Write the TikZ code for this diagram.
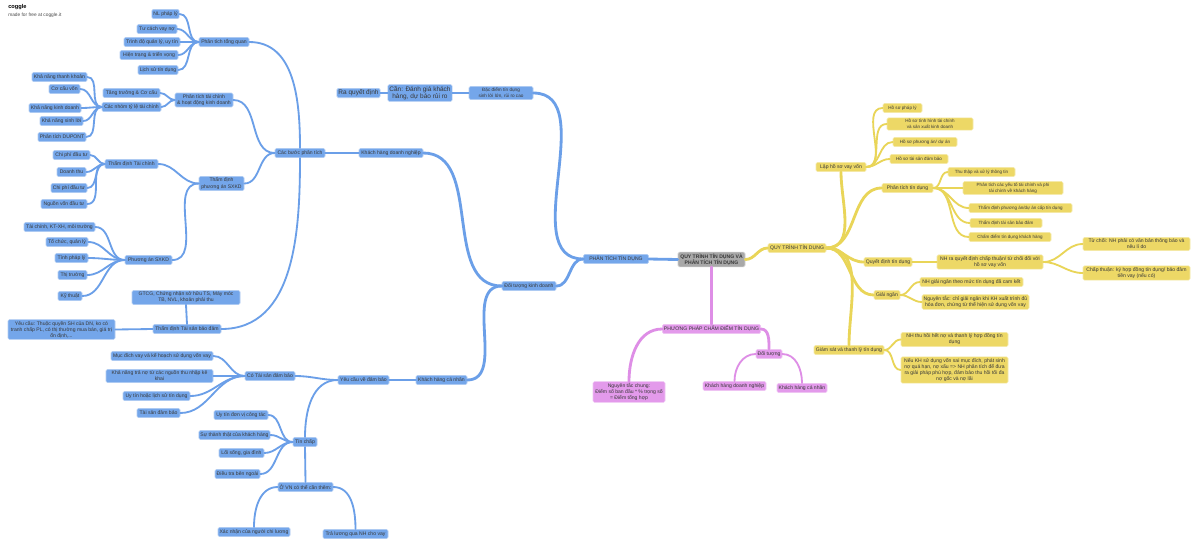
\documentclass[tikz,border=0pt]{standalone}
\usepackage{fontspec}
\setmainfont{Liberation Sans}
\definecolor{cgblue}{HTML}{74A6EA}
\definecolor{cgblueline}{HTML}{6B9FE8}
\definecolor{cgyellow}{HTML}{EDD866}
\definecolor{cgyellowline}{HTML}{E9D558}
\definecolor{cgpink}{HTML}{E39AEB}
\definecolor{cgpinkline}{HTML}{DE8EE6}
\definecolor{cggray}{HTML}{A8A8A8}
\begin{document}
\begin{tikzpicture}[
    x=0.7087pt, y=-0.7087pt,
    box/.style={rectangle,rounded corners=1pt,line width=0.4pt,inner sep=1.1pt,
      minimum height=6.6pt,align=center,text=black!78,
      font=\fontsize{3.6}{4.3}\selectfont},
    bw/.style={minimum width=#1*0.7087pt},
    bnode/.style={box,fill=cgblue,draw=cgblue!55!white},
    ynode/.style={box,fill=cgyellow,draw=cgyellow!55!white},
    ysmall/.style={ynode,font=\fontsize{3.2}{3.9}\selectfont},
    pnode/.style={box,fill=cgpink,draw=cgpink!55!white},
    big/.style={font=\fontsize{4.6}{5.3}\selectfont},
    bl/.style={draw=cgblueline,line width=1.3pt,line cap=round},
    yl/.style={draw=cgyellowline,line width=1.3pt,line cap=round},
    pl/.style={draw=cgpinkline,line width=1.3pt,line cap=round},
    heavy/.style={line width=2pt}
]
\fill[white] (0,0) rectangle (1200,550);
\useasboundingbox (0,0) rectangle (1200,550);

% logo
\node[anchor=west,inner sep=0,font=\fontsize{4}{4}\selectfont\bfseries] (logo) at (8,7) {coggle};
\node[anchor=west,inner sep=0,font=\fontsize{3.4}{4}\selectfont,text=black!70] (made) at (8,15) {made for free at coggle.it};

% root
\node[box,fill=cggray,draw=cggray!55!white,bw=67,font=\fontsize{3.6}{4.3}\selectfont\bfseries] (root) at (711.5,259.5) {QUY TRÌNH TÍN DỤNG VÀ\\PHÂN TÍCH TÍN DỤNG};

% ---- blue branch
\node[bnode,bw=65] (ptd0) at (616,259) {PHÂN TÍCH TÍN DỤNG};
\node[bnode,bw=54] (dtkd) at (529,286) {Đối tượng kinh doanh};
\node[bnode,bw=64] (khdn) at (391,153) {Khách hàng doanh nghiệp};
\node[bnode,bw=50] (cb) at (300,153) {Các bước phân tích};

\node[bnode,bw=50] (tq) at (224,42) {Phân tích tổng quan};
\node[bnode,bw=27] (nl) at (165.5,14) {NL pháp lý};
\node[bnode,bw=40] (tcv) at (157,29) {Tư cách vay nợ};
\node[bnode,bw=56] (tdql) at (152,42) {Trình độ quản lý, uy tín};
\node[bnode,bw=58] (httv) at (149,55) {Hiện trạng \& triển vọng};
\node[bnode,bw=40] (lstd) at (158,70) {Lịch sử tín dụng};

\node[bnode,bw=58] (pttc) at (204,100) {Phân tích tài chính\\\& hoạt động kinh doanh};
\node[bnode,bw=57] (ttcc) at (131.5,93) {Tăng trưởng \& Cơ cấu};
\node[bnode,bw=59] (nhom) at (131.5,107) {Các nhóm tỷ lệ tài chính};
\node[bnode,bw=55] (kntk) at (59.5,77) {Khả năng thanh khoản};
\node[bnode,bw=31] (ccv) at (64.5,89) {Cơ cấu vốn};
\node[bnode,bw=52] (knkd) at (55,108) {Khả năng kinh doanh};
\node[bnode,bw=43] (knsl) at (61.5,121) {Khả năng sinh lời};
\node[bnode,bw=48] (dup) at (62,137) {Phân tích DUPONT};

\node[bnode,bw=45] (tdpa) at (221.5,183.5) {Thẩm định\\phương án SXKD};
\node[bnode,bw=53] (tdtc) at (131.5,164) {Thẩm định Tài chính};
\node[bnode,bw=37] (cp1) at (71.5,155) {Chi phí đầu tư};
\node[bnode,bw=29] (dth) at (71.5,172) {Doanh thu};
\node[bnode,bw=36] (cp2) at (69,188) {Chi phí đầu tư};
\node[bnode,bw=46] (nv) at (64,204) {Nguồn vốn đầu tư};
\node[bnode,bw=47] (pa) at (148.5,260) {Phương án SXKD};
\node[bnode,bw=71] (tckt) at (59.5,227) {Tài chính, KT-XH, môi trường};
\node[bnode,bw=42] (tcql) at (67,242) {Tổ chức, quản lý};
\node[bnode,bw=33] (tpl) at (71.5,258) {Tính pháp lý};
\node[bnode,bw=29] (thtr) at (72.5,275) {Thị trường};
\node[bnode,bw=24] (kt) at (70,296) {Kỹ thuật};

\node[bnode,bw=108] (gtcg) at (186,297.5) {GTCG, Chứng nhận sở hữu TS, Máy móc\\TB, NVL, khoản phải thu};
\node[bnode,bw=68] (tsbd) at (187,329) {Thẩm định Tài sản bảo đảm};
\node[bnode,bw=107] (ycq) at (61.5,329.5) {Yêu cầu: Thuộc quyền SH của DN, ko có\\tranh chấp PL, có thị thường mua bán, giá trị\\ổn định,...};

\node[bnode,bw=51] (khcn) at (441.5,380) {Khách hàng cá nhân};
\node[bnode,bw=51] (ycdb) at (363.5,380) {Yêu cầu về đảm bảo};
\node[bnode,bw=50] (cts) at (270,376) {Có Tài sản đảm bảo};
\node[bnode,bw=102] (md) at (162,356) {Mục đích vay và kế hoạch sử dụng vốn vay};
\node[bnode,bw=107] (kntn) at (159.5,376) {Khả năng trả nợ từ các nguồn thu nhập kê\\khai};
\node[bnode,bw=67] (ut) at (156.5,396) {Uy tín hoặc lịch sử tín dụng};
\node[bnode,bw=43] (tsdb) at (158.5,413) {Tài sản đảm bảo};
\node[bnode,bw=24] (tc) at (305,442) {Tín chấp};
\node[bnode,bw=54] (utdv) at (241,415) {Uy tín đơn vị công tác};
\node[bnode,bw=71] (stt) at (234.5,435) {Sự thành thật của khách hàng};
\node[bnode,bw=45] (lsgd) at (241.5,453) {Lối sống, gia đình};
\node[bnode,bw=45] (dtbn) at (237.5,474) {Điều tra bên ngoài};
\node[bnode,bw=55] (vn) at (305.5,487) {Ở VN có thể cần thêm:};
\node[bnode,bw=72] (xn) at (254,532) {Xác nhận của người chi lương};
\node[bnode,bw=65] (tl) at (355.5,534) {Trả lương qua NH cho vay};

\node[bnode,bw=41,big] (rqd) at (358.5,93) {Ra quyết định};
\node[bnode,bw=64,big] (can) at (420,93) {Cần: Đánh giá khách\\hàng, dự báo rủi ro};
\node[bnode,bw=64,font=\fontsize{3.3}{4}\selectfont] (dd) at (501,93) {Đặc điểm tín dụng\\sinh lời lớn, rủi ro cao};

% ---- yellow branch
\node[ynode,bw=58] (qttd) at (797,248) {QUY TRÌNH TÍN DỤNG};
\node[ynode,bw=50] (lhs) at (841,167) {Lập hồ sơ vay vốn};
\node[ysmall,bw=39] (hspl) at (902.5,108) {Hồ sơ pháp lý};
\node[ysmall,bw=86] (hstc) at (930,124) {Hồ sơ tình hình tài chính\\và sản xuất kinh doanh};
\node[ysmall,bw=64] (hspa) at (925,142) {Hồ sơ phương án/ dự án};
\node[ysmall,bw=58] (hsts) at (919,159) {Hồ sơ tài sản đảm bảo};
\node[ynode,bw=51] (ptd) at (907.5,188) {Phân tích tín dụng};
\node[ysmall,bw=67] (ttxl) at (981.5,172) {Thu thập và xử lý thông tin};
\node[ysmall,bw=100] (ptyt) at (1013,188) {Phân tích các yếu tố tài chính và phi\\tài chính về khách hàng};
\node[ysmall,bw=103] (tdcap) at (1020.5,208) {Thẩm định phương án/dự án cấp tín dụng};
\node[ysmall,bw=72] (tdts) at (1006,223) {Thẩm định tài sản bảo đảm};
\node[ysmall,bw=82] (cdtd) at (1010,237) {Chấm điểm tín dụng khách hàng};
\node[ynode,bw=48] (qd) at (888,262) {Quyết định tín dụng};
\node[ynode,bw=106] (nhqd) at (990,262) {NH ra quyết định chấp thuận/ từ chối đối với\\hồ sơ vay vốn};
\node[ynode,bw=107] (tuchoi) at (1136.5,244) {Từ chối: NH phải có văn bản thông báo và\\nêu lí do};
\node[ynode,bw=107] (chapth) at (1136.5,273) {Chấp thuận: ký hợp đồng tín dụng/ bảo đảm\\tiền vay (nếu có)};
\node[ynode,bw=26] (gn) at (887,295) {Giải ngân};
\node[ynode,bw=103] (nhgn) at (971.5,282) {NH giải ngân theo mức tín dụng đã cam kết};
\node[ynode,bw=107] (ntgn) at (975.5,302) {Nguyên tắc: chỉ giải ngân khi KH xuất trình đủ\\hóa đơn, chứng từ thể hiện sử dụng vốn vay};
\node[ynode,bw=70] (gs) at (849,350) {Giám sát và thanh lý tín dụng};
\node[ynode,bw=107] (thuhoi) at (954.5,339.5) {NH thu hồi hết nợ và thanh lý hợp đồng tín\\dụng};
\node[ynode,bw=107] (neu) at (954.5,370) {Nếu KH sử dụng vốn sai mục đích, phát sinh\\nợ quá hạn, nợ xấu => NH phân tích để đưa\\ra giải pháp phù hợp, đảm bảo thu hồi tối đa\\nợ gốc và nợ lãi};

% ---- pink branch
\node[pnode,bw=97] (pp) at (711.5,329) {PHƯƠNG PHÁP CHẤM ĐIỂM TÍN DỤNG};
\node[pnode,bw=26] (dtg) at (769,354) {Đối tượng};
\node[pnode,bw=72] (nt) at (629,392) {Nguyên tắc chung:\\Điểm số ban đầu * \% trọng số\\= Điểm tổng hợp};
\node[pnode,bw=63] (kdn) at (734.5,386) {Khách hàng doanh nghiệp};
\node[pnode,bw=50] (kcn) at (802,388) {Khách hàng cá nhân};

% connectors, blue
\draw[bl,heavy] (root.west) -- (ptd0.east);
\draw[bl,heavy] (ptd0.west) to[out=180,in=0] (dd.east);
\draw[bl,heavy] (ptd0.west) to[out=180,in=0] (dtkd.east);
\draw[bl] (dd.west) -- (can.east);
\draw[bl] (can.west) -- (rqd.east);
\draw[bl,heavy] (dtkd.west) to[out=180,in=0] (khdn.east);
\draw[bl,heavy] (dtkd.west) to[out=180,in=0] (khcn.east);
\draw[bl,heavy] (khdn.west) -- (cb.east);
\draw[bl] (cb.north) to[out=90,in=0] (tq.east);
\draw[bl] (cb.west) to[out=180,in=0] (pttc.east);
\draw[bl] (cb.west) to[out=180,in=0] (tdpa.east);
\draw[bl] (cb.south) to[out=-90,in=0] (tsbd.east);
\foreach \c in {nl,tcv,tdql,httv,lstd}
  \draw[bl] (tq.west) to[out=180,in=0] (\c.east);
\foreach \c in {ttcc,nhom}
  \draw[bl] (pttc.west) to[out=180,in=0] (\c.east);
\foreach \c in {kntk,ccv,knkd,knsl,dup}
  \draw[bl] (nhom.west) to[out=180,in=0] (\c.east);
\draw[bl] (tdpa.west) to[out=180,in=0] (tdtc.east);
\draw[bl] (tdpa.west) to[out=180,in=0] (pa.east);
\foreach \c in {cp1,dth,cp2,nv}
  \draw[bl] (tdtc.west) to[out=180,in=0] (\c.east);
\foreach \c in {tckt,tcql,tpl,thtr,kt}
  \draw[bl] (pa.west) to[out=180,in=0] (\c.east);
\draw[bl] (tsbd.north) -- (gtcg.south);
\draw[bl] (tsbd.west) -- (ycq.east);
\draw[bl,heavy] (khcn.west) -- (ycdb.east);
\draw[bl] (ycdb.west) to[out=180,in=0] (cts.east);
\draw[bl] (ycdb.west) to[out=180,in=90] (tc.north);
\foreach \c in {md,kntn,ut,tsdb}
  \draw[bl] (cts.west) to[out=180,in=0] (\c.east);
\foreach \c in {utdv,stt,lsgd,dtbn}
  \draw[bl] (tc.west) to[out=180,in=0] (\c.east);
\draw[bl] (tc.south) -- (vn.north);
\draw[bl] (vn.west) to[out=180,in=90] (xn.north);
\draw[bl] (vn.east) to[out=0,in=90] (tl.north);

% connectors, yellow
\draw[yl,heavy] (root.east) to[out=0,in=180] (qttd.west);
\draw[yl,heavy] (qttd.east) to[out=0,in=-90] (lhs.south);
\draw[yl,heavy] (qttd.east) to[out=0,in=180] (ptd.west);
\draw[yl,heavy] (qttd.east) to[out=0,in=180] (qd.west);
\draw[yl,heavy] (qttd.east) to[out=0,in=180] (gn.west);
\draw[yl,heavy] (qttd.east) to[out=0,in=90] (gs.north);
\foreach \c in {hspl,hstc,hspa,hsts}
  \draw[yl] (lhs.east) to[out=0,in=180] (\c.west);
\foreach \c in {ttxl,ptyt,tdcap,tdts,cdtd}
  \draw[yl] (ptd.east) to[out=0,in=180] (\c.west);
\draw[yl] (qd.east) -- (nhqd.west);
\draw[yl] (nhqd.east) to[out=0,in=180] (tuchoi.west);
\draw[yl] (nhqd.east) to[out=0,in=180] (chapth.west);
\draw[yl] (gn.east) to[out=0,in=180] (nhgn.west);
\draw[yl] (gn.east) to[out=0,in=180] (ntgn.west);
\draw[yl] (gs.east) to[out=0,in=180] (thuhoi.west);
\draw[yl] (gs.east) to[out=0,in=180] (neu.west);

% connectors, pink
\draw[pl,heavy] (root.south) -- (pp.north);
\draw[pl,heavy] (pp.west) to[out=180,in=90] (nt.north);
\draw[pl,heavy] (pp.east) to[out=0,in=90] (dtg.north);
\draw[pl] (dtg.west) to[out=180,in=90] (kdn.north);
\draw[pl] (dtg.east) to[out=0,in=90] (kcn.north);

\end{tikzpicture}
\end{document}
